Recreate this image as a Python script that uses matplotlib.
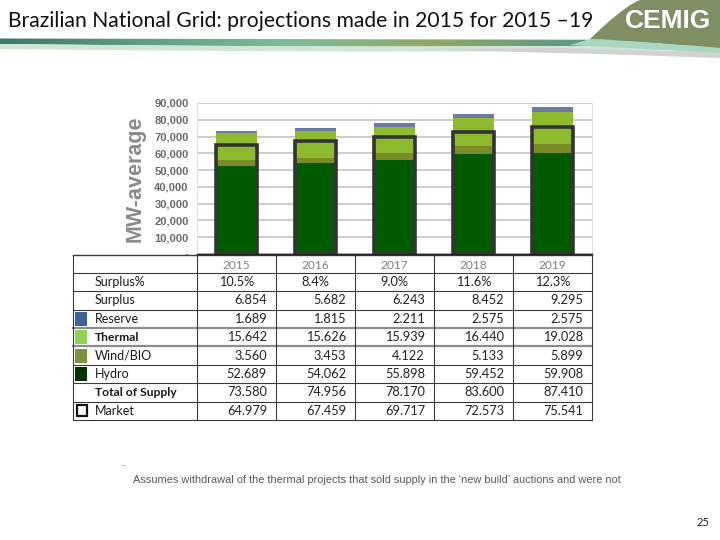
import numpy as np
import matplotlib
matplotlib.use("Agg")
import matplotlib.pyplot as plt
from matplotlib.patches import Polygon, Rectangle
from matplotlib.colors import LinearSegmentedColormap

# ---------------- data ----------------
years = ['2015', '2016', '2017', '2018', '2019']
surplus_pct = ['10.5%', '8.4%', '9.0%', '11.6%', '12.3%']
surplus = [6.854, 5.682, 6.243, 8.452, 9.295]
reserve = [1.689, 1.815, 2.211, 2.575, 2.575]
thermal = [15.642, 15.626, 15.939, 16.440, 19.028]
wind_bio = [3.560, 3.453, 4.122, 5.133, 5.899]
hydro = [52.689, 54.062, 55.898, 59.452, 59.908]
total_supply = [73.580, 74.956, 78.170, 83.600, 87.410]
market = [64.979, 67.459, 69.717, 72.573, 75.541]
ytick_vals = [0, 10000, 20000, 30000, 40000, 50000, 60000, 70000, 80000, 90000]
ytick_labels = ['-', '10,000', '20,000', '30,000', '40,000', '50,000',
                '60,000', '70,000', '80,000', '90,000']

title = 'Brazilian National Grid: projections made in 2015 for 2015 \u201319'
footnote = 'Assumes withdrawal of the thermal projects that sold supply in the \u2018new build\u2019 auctions and were not'

C_HYDRO = '#005a00'
C_WIND = '#7a8c26'
C_THERMAL = '#8dbb2d'
C_RESERVE = '#6b7ba1'

W, H = 720, 540
fig = plt.figure(figsize=(7.2, 5.4), dpi=100)

# --------------- overlay (pixel coords) ---------------
ov = fig.add_axes([0, 0, 1, 1])
ov.set_xlim(0, W)
ov.set_ylim(H, 0)
ov.axis('off')

# header swoosh band with gradient
xs = np.linspace(0, W, 200)
top = 38.5 + 1.5 * (xs / W)
bot = 44 + 2.5 * np.sin(np.pi * xs / W * 0.9)
band = Polygon(np.column_stack([np.r_[xs, xs[::-1]], np.r_[top, bot[::-1]]]),
               closed=True, facecolor='none', edgecolor='none')
ov.add_patch(band)
cm = LinearSegmentedColormap.from_list('sw', ['#3c7868', '#5e9e86', '#7cbc98', '#8fa765', '#5d9a88', '#4c8a7a'])
grad = np.linspace(0, 1, 256).reshape(1, -1)
im = ov.imshow(grad, extent=[0, W, 50, 36], cmap=cm, aspect='auto', zorder=1)
im.set_clip_path(band)
fade = Polygon(np.column_stack([np.r_[xs, xs[::-1]], np.r_[bot, (bot + 5)[::-1]]]),
               closed=True, facecolor='#cfe6d4', edgecolor='none', zorder=1)
ov.add_patch(fade)
shadow = Polygon([(420, 49), (560, 48), (720, 52), (720, 58), (600, 54), (480, 51)],
                 closed=True, facecolor='#d2d2d2', edgecolor='none', zorder=1)
ov.add_patch(shadow)

# olive shape behind logo
t = np.linspace(0, 1, 40)
left_edge = np.column_stack([640 - 50 * t ** 0.8, 0 + 39 * t])
bottom_edge = np.column_stack([590 + 130 * t, 39 + 9 * t ** 1.3])
olive = Polygon(np.vstack([left_edge, bottom_edge, [(720, 0)]]), closed=True,
                facecolor='#7f8e63', edgecolor='none', zorder=2)
ov.add_patch(olive)
teal = Polygon(np.vstack([np.column_stack([590 + 130 * t, 39 + 9 * t ** 1.3]),
                          np.column_stack([720 - 150 * t, 53 - 8 * t])]),
               closed=True, facecolor='#aad6c2', edgecolor='none', zorder=1.5)
ov.add_patch(teal)
ov.text(668, 21, 'CEMIG', color='white', fontsize=19, fontweight='bold',
        family=['Liberation Sans', 'DejaVu Sans'],
        ha='center', va='center', zorder=3)

# title
ov.text(8, 21, title, fontsize=15.2, family=['Lato', 'DejaVu Sans'],
        color='#111111', ha='left', va='center', zorder=3)

# --------------- chart ---------------
ax_l, ax_r, ax_t, ax_b = 197, 592, 103, 254
ax = fig.add_axes([ax_l / W, (H - ax_b) / H, (ax_r - ax_l) / W, (ax_b - ax_t) / H])
ax.set_facecolor('none')
ax.set_zorder(5)
x = np.arange(len(years))
bw = 0.52
h = np.array(hydro) * 1000
wv = np.array(wind_bio) * 1000
th = np.array(thermal) * 1000
rs = np.array(reserve) * 1000
mk = np.array(market) * 1000
ax.bar(x, h, bw, color=C_HYDRO, zorder=3)
ax.bar(x, wv, bw, bottom=h, color=C_WIND, zorder=3)
ax.bar(x, th, bw, bottom=h + wv, color=C_THERMAL, zorder=3)
ax.bar(x, rs, bw, bottom=h + wv + th, color=C_RESERVE, zorder=3)
ax.bar(x, mk, bw, facecolor='none', edgecolor='#333333', linewidth=2.6, zorder=4)
ax.set_xlim(-0.5, len(years) - 0.5)
ax.set_ylim(0, 90000)
ax.set_yticks(ytick_vals)
ax.set_yticklabels(ytick_labels, fontsize=8, fontweight='bold', color='#6a6a6a',
                   family=['Liberation Sans', 'DejaVu Sans'])
ax.tick_params(axis='y', length=0, pad=6)
ax.set_xticks([])
ax.grid(axis='y', color='#c4c4c4', linewidth=1.2, zorder=0)
for s in ['left', 'right', 'top']:
    ax.spines[s].set_color('#e0e0e0')
    ax.spines[s].set_linewidth(0.8)
ax.spines['top'].set_visible(False)
ax.spines['bottom'].set_color('#222222')
ax.spines['bottom'].set_linewidth(1.0)
ax.set_ylabel('MW-average', fontsize=15.5, fontweight='bold', color='#8a8a8a',
              family=['Liberation Sans', 'DejaVu Sans'])
ax.yaxis.set_label_coords(-(ax_l - 135) / (ax_r - ax_l), 0.5)
ax.yaxis.label.set_va('center')

# --------------- table ---------------
tl, tr, tt, tb = 73, 592, 254.5, 420
col_x = [tl] + [ax_l + (ax_r - ax_l) / 5 * k for k in range(6)]
nrows = 9
rh = (tb - tt) / nrows
row_y = [tt + rh * k for k in range(nrows + 1)]
lc = '#3a3a3a'
ov.plot([tl, tr], [tt, tt], color=lc, lw=1.0, zorder=3)
for k in range(1, nrows + 1):
    if k in (4, 5):
        ov.plot([tl, tr], [row_y[k], row_y[k]], color='#8c8c8c', lw=1.6, zorder=3)
    else:
        ov.plot([tl, tr], [row_y[k], row_y[k]], color=lc, lw=0.8, zorder=3)
for cx in [tl] + col_x[1:]:
    ov.plot([cx, cx], [tt, tb], color=lc, lw=0.8, zorder=3)

tfont = ['Lato', 'DejaVu Sans']
fs = 8.6
fsn = 9.2
centers = [(col_x[k + 1] + col_x[k + 2]) / 2 for k in range(5)]
rights = [col_x[k + 2] - 9 for k in range(5)]
for k, yr in enumerate(years):
    ov.text(centers[k], (row_y[0] + row_y[1]) / 2 + 1.5, yr, fontsize=fs, family=tfont,
            color='#7f7f7f', ha='center', va='center', zorder=4)

row_labels = ['Surplus%', 'Surplus', 'Reserve', 'Thermal', 'Wind/BIO', 'Hydro',
              'Total of Supply', 'Market']
bold_rows = {'Thermal', 'Total of Supply'}
row_vals = [surplus_pct, surplus, reserve, thermal, wind_bio, hydro, total_supply, market]
swatches = {'Reserve': '#3d6495', 'Thermal': '#92d050',
            'Wind/BIO': '#77933c', 'Hydro': '#003300'}
for i, (lab, vals) in enumerate(zip(row_labels, row_vals)):
    yc = (row_y[i + 1] + row_y[i + 2]) / 2
    isb = lab in bold_rows
    ov.text(95, yc, lab, fontsize=8.7 if isb else 9.0, family=tfont, color='#1a1a1a',
            fontweight='bold' if isb else 'normal',
            ha='left', va='center', zorder=4)
    if lab in swatches:
        ov.add_patch(Rectangle((75, yc - 7), 12, 14, facecolor=swatches[lab],
                               edgecolor='none', zorder=4))
    if lab == 'Market':
        ov.add_patch(Rectangle((77, yc - 5.5), 9.5, 11, facecolor='white',
                               edgecolor='#111111', lw=1.6, zorder=4))
    for k, v in enumerate(vals):
        if isinstance(v, str):
            ov.text(centers[k], yc, v, fontsize=fsn, family=tfont, color='#222222',
                    ha='center', va='center', zorder=4)
        else:
            ov.text(rights[k], yc, f'{v:.3f}', fontsize=fsn, family=tfont, color='#222222',
                    ha='right', va='center', zorder=4)

# --------------- footnote & page number ---------------
ov.text(121, 466, '\u2013', fontsize=6, color='#7f7f7f', ha='left', va='center',
        family=['Liberation Sans', 'DejaVu Sans'])
ov.text(133, 480, footnote, fontsize=7.9, color='#595959', ha='left', va='center',
        family=['Liberation Sans', 'DejaVu Sans'])
ov.text(703, 523, '25', fontsize=8, color='#222222', ha='center', va='center',
        family=['Lato', 'DejaVu Sans'])

fig.savefig('out.png', dpi=100)
